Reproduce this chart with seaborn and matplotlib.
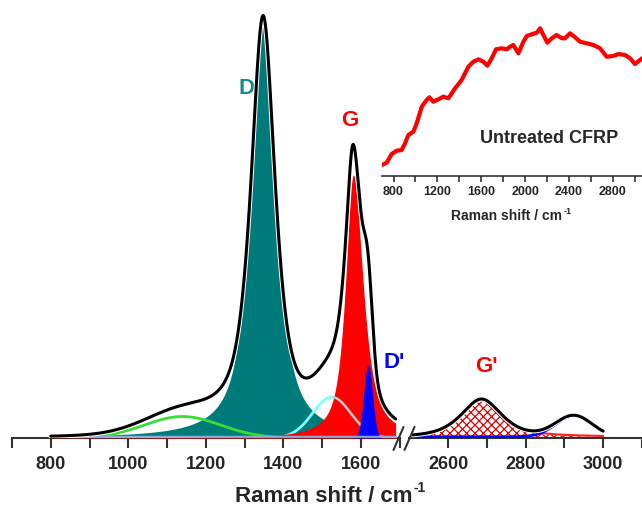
import numpy as np
import pandas as pd
import matplotlib
matplotlib.use("Agg")
import matplotlib.pyplot as plt
import seaborn as sns
from matplotlib import patheffects as pe
from matplotlib.lines import Line2D
from matplotlib.ticker import FixedLocator

sns.set_theme(style="white")
plt.rcParams["font.family"] = ["Liberation Sans", "DejaVu Sans"]
plt.rcParams["hatch.linewidth"] = 0.9

# ---- first-order band fit (Raman shift cm-1, intensity a.u.) ----
band_names = ["D", "G", "D'", "D3", "D4"]
band_centers = [1348, 1581, 1619, 1525, 1140]
band_heights = [418, 263, 73, 41, 21.5]
band_hwhm_left = [38, 24, 13.3, 58, 115]
band_hwhm_right = [38, 30, 13.3, 58, 115]
band_lorentz_frac = [0.8, 0.8, 0.0, 0.0, 0.0]

# ---- second-order band fit ----
band2_names = ["G'", "D+G"]
band2_centers = [2686, 2925]
band2_heights = [39, 21]
band2_hwhm = [63, 55]
band2_lorentz_frac = [0.7, 0.0]

# ---- inset: untreated CFRP spectrum ----
inset_shift = [692, 738, 783, 829, 874, 905, 935, 981, 1011, 1057, 1102, 1127,
               1163, 1209, 1254, 1300, 1361, 1421, 1482, 1528, 1573, 1619, 1655,
               1695, 1734, 1786, 1832, 1862, 1892, 1938, 1984, 2014, 2060, 2105,
               2136, 2166, 2202, 2242, 2287, 2333, 2363, 2409, 2455, 2500, 2561,
               2622, 2682, 2743, 2804, 2850, 2910, 2956, 3001, 3047, 3065]
inset_intensity = [11, 13.3, 22, 25.3, 26, 32.7, 41, 44.3, 52.7, 69.3, 76, 78.7,
                   74.3, 76.7, 79.3, 77.7, 87.7, 96, 109.3, 114.3, 116.7, 114.3,
                   110.3, 117.7, 126.7, 127.7, 126.7, 129.3, 131, 122.7, 134.3,
                   140, 141.7, 143.3, 147.7, 141, 133.3, 137.7, 141, 137.7, 137.7,
                   142.7, 138.7, 134.3, 132.7, 131, 127.7, 119.3, 120, 122, 121,
                   117.7, 112, 116, 117.7]

main_ticks_left = [800, 1000, 1200, 1400, 1600]
main_ticks_right = [2600, 2800, 3000]
inset_ticks = [800, 1200, 1600, 2000, 2400, 2800]


def profile(x, c, h, wl, wr, eta):
    w = np.where(x < c, wl, wr)
    d = (x - c) / w
    return h * (eta / (1 + d ** 2) + (1 - eta) * np.exp(-np.log(2) * d ** 2))


W, H = 642, 514
fig = plt.figure(figsize=(W / 100, H / 100), dpi=100)
base_py = 438
top_py = 5


def fx(px):
    return px / W


def fy(py):
    return 1 - py / H


ax1 = fig.add_axes([fx(12), fy(base_py), 387.5 / W, (base_py - top_py) / H])
ax2 = fig.add_axes([fx(409.4), fy(base_py), 232.5 / W, (base_py - top_py) / H])

x1 = np.linspace(800, 1690, 1800)
x2 = np.linspace(2510, 3000, 800)

comp = {}
for n, c, h, wl, wr, e in zip(band_names, band_centers, band_heights,
                              band_hwhm_left, band_hwhm_right, band_lorentz_frac):
    comp[n] = profile(x1, c, h, wl, wr, e)
total1 = sum(comp.values())

comp2 = {}
for n, c, h, w, e in zip(band2_names, band2_centers, band2_heights,
                         band2_hwhm, band2_lorentz_frac):
    comp2[n] = profile(x2, c, h, w, w, e)
total2 = sum(comp2.values())

halo = [pe.Stroke(linewidth=3.6, foreground="white"), pe.Normal()]
teal = "#007b7b"
# left panel
ax1.fill_between(x1, 0, comp["D"], color=teal, lw=0, zorder=2)
sns.lineplot(x=x1, y=comp["D4"], ax=ax1, color="#33e033", lw=2, zorder=3)
sns.lineplot(x=x1, y=comp["D3"], ax=ax1, color="#80ffff", lw=2, zorder=3)
ax1.fill_between(x1, 0, comp["G"], color="#ff0000", lw=0, zorder=4)
m = x1 > 1530
sns.lineplot(x=x1[m], y=comp["D3"][m], ax=ax1, color="#c8c8c8", lw=1.8, zorder=5)
ax1.fill_between(x1, 0, comp["D'"], color="#0000ff", lw=0, zorder=6)
sns.lineplot(x=x1, y=np.full_like(x1, 1.2), ax=ax1, color="#86aed6", lw=1.5, zorder=6)
sns.lineplot(x=x1, y=total1, ax=ax1, color="black", lw=2.2, zorder=8)
ax1.lines[-1].set_path_effects(halo)

# right panel
ax2.fill_between(x2, 0, comp2["G'"], facecolor="white", edgecolor="#e00000",
                 hatch="xxxx", lw=0, zorder=2)
sns.lineplot(x=x2, y=comp2["G'"] + 1.0, ax=ax2, color="#ff2020", lw=1.5, zorder=3)
sns.lineplot(x=x2, y=comp2["D+G"] + 1.2, ax=ax2, color="#0000ff", lw=2, zorder=4)
sns.lineplot(x=x2, y=total2, ax=ax2, color="black", lw=2.2, zorder=8)
ax2.lines[-1].set_path_effects(halo)

for ax, xl, maj, mino in [(ax1, (700, 1700), main_ticks_left, list(range(700, 1701, 200))),
                          (ax2, (2500, 3100), main_ticks_right, [2700, 2900, 3100])]:
    ax.set_xlim(*xl)
    ax.set_ylim(0, base_py - top_py)
    ax.set_facecolor("none")
    for s in ["top", "left", "right"]:
        ax.spines[s].set_visible(False)
    ax.spines["bottom"].set_color("#333333")
    ax.spines["bottom"].set_linewidth(1.5)
    ax.xaxis.set_major_locator(FixedLocator(maj))
    ax.xaxis.set_minor_locator(FixedLocator(mino))
    ax.set_xticklabels([str(t) for t in maj], fontsize=13, fontweight="bold")
    ax.tick_params(axis="x", which="both", bottom=True, direction="out",
                   length=7, width=1.5, color="#333333", pad=6)
    ax.set_yticks([])
    ax.set_xlabel("")
    ax.set_ylabel("")

# band labels
ax1.text(1304, 350, "D", color="#148c8c", fontsize=16, fontweight="bold",
         ha="center", va="center")
ax1.text(1572, 317, "G", color="#ff0000", fontsize=16, fontweight="bold",
         ha="center", va="center")
ax1.text(1686, 75, "D'", color="#0000ff", fontsize=16, fontweight="bold",
         ha="center", va="center", clip_on=False)
ax2.text(2698, 71, "G'", color="#ff0000", fontsize=16, fontweight="bold",
         ha="center", va="center")

# axis break marks
for x0 in (393.5, 404.5):
    fig.add_artist(Line2D([fx(x0), fx(x0 + 10)], [fy(450), fy(427)],
                          color="#333333", lw=1.5))


def label_with_sup(xc, yc, main, sup, size, sup_size, rise):
    renderer = fig.canvas.get_renderer()
    t = fig.text(0, fy(yc), main, fontsize=size, fontweight="bold",
                 ha="left", va="center")
    s = fig.text(0, fy(yc - rise), sup, fontsize=sup_size, fontweight="bold",
                 ha="left", va="center")
    wm = t.get_window_extent(renderer).width
    ws = s.get_window_extent(renderer).width
    x0 = xc - (wm + ws) / 2
    t.set_x(fx(x0))
    s.set_x(fx(x0 + wm + 1))


label_with_sup(330, 497, "Raman shift / cm", "-1", 16, 10, 9)

# inset
axi = fig.add_axes([fx(381.7), fy(176), (3200 - 692) * 0.1097 / W, 156 / H])
sns.lineplot(x=inset_shift, y=inset_intensity, ax=axi, color="#ff0000", lw=3)
axi.set_xlim(692, 3200)
axi.set_ylim(0, 156)
axi.set_facecolor("none")
for s in ["top", "left", "right"]:
    axi.spines[s].set_visible(False)
axi.spines["bottom"].set_color("#333333")
axi.spines["bottom"].set_linewidth(1.2)
axi.xaxis.set_major_locator(FixedLocator(inset_ticks))
axi.xaxis.set_minor_locator(FixedLocator(list(range(1000, 3201, 400))))
axi.set_xticklabels([str(t) for t in inset_ticks], fontsize=9, fontweight="bold")
axi.tick_params(axis="x", which="both", bottom=True, direction="out", length=4,
                width=1.2, color="#333333", pad=3)
axi.set_yticks([])
axi.set_xlabel("")
axi.set_ylabel("")
label_with_sup(511, 216, "Raman shift / cm", "-1", 10, 6.5, 5)
fig.text(fx(549), fy(139), "Untreated CFRP", fontsize=13, fontweight="bold",
         ha="center", va="center")

fig.savefig("out.png", dpi=100)
